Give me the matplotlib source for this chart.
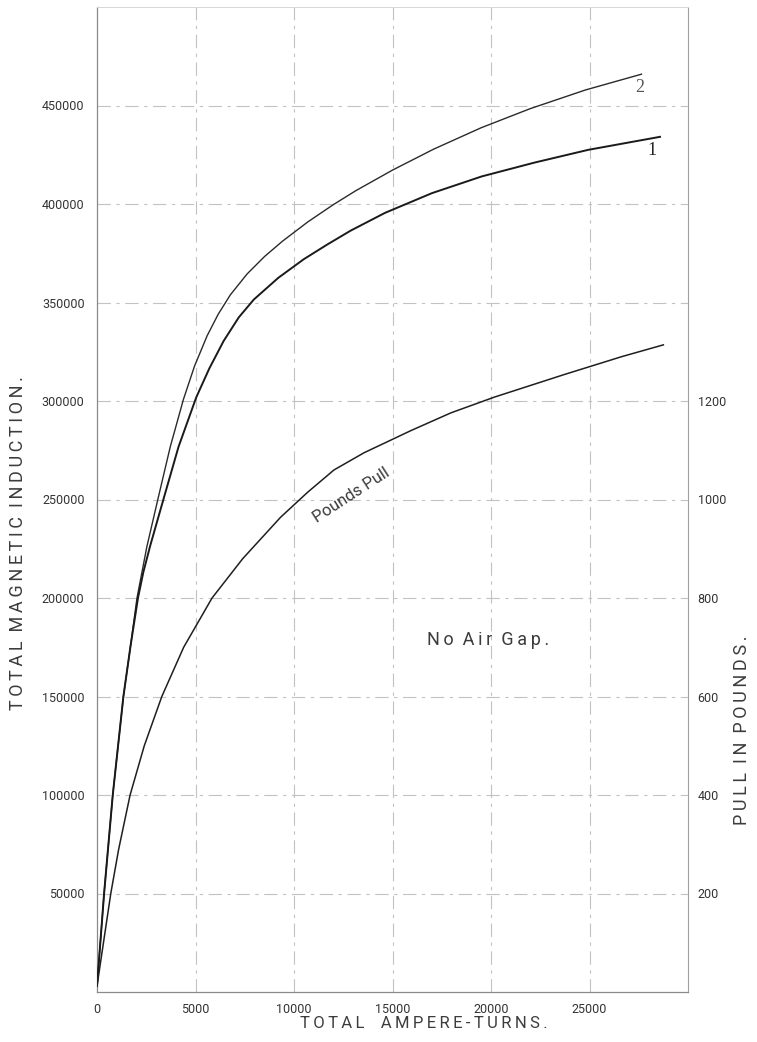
import matplotlib
matplotlib.use('Agg')
import matplotlib.pyplot as plt

# ampere-turns vs total induction
curve2_x = [0, 360, 800, 1340, 1700, 2030, 2530, 3120, 3720, 4390, 4950, 5590, 6150, 6770, 7620, 8500,
            9400, 10700, 12000, 13145, 15000, 17080, 19500, 21990, 24800, 27640]
curve2_y = [3000, 50000, 100000, 150000, 175500, 200000, 226000, 251400, 276800, 300900, 317700, 333100,
            344000, 353900, 364500, 373300, 381000, 390900, 399700, 406800, 417200, 427800, 438700,
            448400, 457900, 465900]

curve1_x = [0, 360, 800, 1340, 1700, 2080, 2350, 2700, 3410, 4140, 5040, 5700, 6430, 7200, 7960, 9200,
            10500, 11700, 12880, 14620, 17000, 19530, 22200, 24940, 28580]
curve1_y = [3000, 50000, 100000, 150000, 175500, 200000, 213000, 226500, 251400, 276800, 301900, 316500,
            330500, 342500, 351500, 362500, 372000, 379500, 386500, 395500, 405500, 414000, 421000,
            427500, 434100]

# pull in pounds (right hand scale)
pull_x = [0, 700, 1100, 1680, 2400, 3290, 4400, 5840, 7400, 9320, 10700, 12030, 13560, 15940, 17970,
          20180, 23740, 26630, 28750]
pull_lb = [12, 200, 290, 400, 500, 600, 700, 800, 880, 964, 1015, 1060, 1095, 1140, 1176,
           1208, 1254, 1290, 1314]

x_ticks = [0, 5000, 10000, 15000, 20000, 25000]
y_ticks = [50000, 100000, 150000, 200000, 250000, 300000, 350000, 400000, 450000]
pull_ticks = [200, 400, 600, 800, 1000, 1200]

tick_font = ['Roboto', 'DejaVu Sans']
title_font = ['Roboto', 'DejaVu Sans']
text_col = '#3c3c3c'
grid_col = '#c2c2c2'
dash = (0, (12, 5, 3, 5))


def spaced(s):
    # old plate lettering is widely tracked
    return '  '.join('\u2009'.join(w) for w in s.split(' '))


fig = plt.figure(figsize=(7.57, 10.42), dpi=100)
ax = fig.add_axes([97 / 757, 50 / 1042, 591 / 757, 985 / 1042])
ax.set_xlim(0, 30000)
ax.set_ylim(0, 500000)

for gx in x_ticks[1:]:
    ax.axvline(gx, color=grid_col, lw=0.8, ls=dash, zorder=1)
for gy in y_ticks:
    ax.axhline(gy, color=grid_col, lw=0.8, ls=dash, zorder=1)

ax.plot(curve2_x, curve2_y, color='#2a2a2a', lw=1.0, zorder=3)
ax.plot(curve1_x, curve1_y, color='#1a1a1a', lw=1.4, zorder=3)

ax.set_xticks(x_ticks)
ax.set_xticklabels([str(v) for v in x_ticks], family=tick_font, fontsize=9)
ax.set_yticks(y_ticks)
ax.set_yticklabels([str(v) for v in y_ticks], family=tick_font, fontsize=9)
ax.tick_params(length=0, pad=9, colors='#333333')
ax.tick_params(axis='x', pad=8)

for side in ['left', 'bottom']:
    ax.spines[side].set_color('#8a8a8a')
    ax.spines[side].set_linewidth(0.9)
ax.spines['right'].set_color('#a0a0a0')
ax.spines['right'].set_linewidth(0.8)
ax.spines['top'].set_color('#d6d6d6')
ax.spines['top'].set_linewidth(0.7)

ax2 = ax.twinx()
ax2.set_ylim(0, 2000)
ax2.plot(pull_x, pull_lb, color='#1f1f1f', lw=1.1, zorder=3)
ax2.set_yticks(pull_ticks)
ax2.set_yticklabels([str(v) for v in pull_ticks], family=tick_font, fontsize=9)
ax2.tick_params(length=0, pad=7, colors='#333333')
for s in ax2.spines.values():
    s.set_visible(False)

# curve labels
ax.text(27550, 458900, '2', family=['Liberation Serif', 'DejaVu Serif'], fontsize=13,
        color='#555555', ha='center', va='center')
ax.text(28160, 427400, '1', family=['Liberation Serif', 'DejaVu Serif'], fontsize=13,
        color='#222222', ha='center', va='center')
ax.text(12900, 252000, 'Pounds Pull', family=title_font, fontsize=12,
        color=text_col, rotation=33, ha='center', va='center', rotation_mode='anchor')
ax.text(19850, 178500, spaced('No Air Gap.'), family=title_font, fontsize=13,
        color=text_col, ha='center', va='center')

fig.text(18 / 757, 1 - 543 / 1042, spaced('TOTAL MAGNETIC INDUCTION.'), family=title_font,
         fontsize=13, color=text_col, rotation=90, ha='center', va='center')
fig.text(424 / 757, 1 - 1023 / 1042, spaced('TOTAL  AMPERE-TURNS.'), family=title_font,
         fontsize=12, color=text_col, ha='center', va='center')
fig.text(742 / 757, 1 - 730 / 1042, spaced('PULL IN POUNDS.'), family=title_font,
         fontsize=13, color=text_col, rotation=90, ha='center', va='center')

fig.savefig('out.png', dpi=100)
